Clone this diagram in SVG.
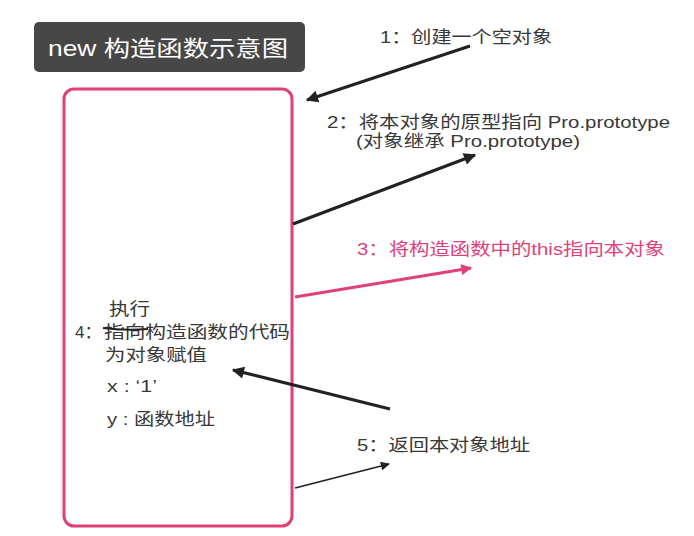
<svg xmlns="http://www.w3.org/2000/svg" width="694" height="536" viewBox="0 0 694 536">
<style>
.t{font-family:"Liberation Sans","Noto Sans CJK SC",sans-serif;font-size:17px;fill:#383838}
.p{fill:#e0407a}
.ln{stroke:#222;fill:none;stroke-linecap:butt}
</style>
<defs>
<marker id="ah" viewBox="0 0 10 10" refX="9" refY="5" markerWidth="4.2" markerHeight="3.8" orient="auto" markerUnits="strokeWidth"><path d="M0,0 L10,5 L0,10 z" fill="#222"/></marker>
<marker id="ahs" viewBox="0 0 10 10" refX="9" refY="5" markerWidth="5.5" markerHeight="5" orient="auto" markerUnits="strokeWidth"><path d="M0,0 L10,5 L0,10 z" fill="#222"/></marker>
<marker id="ap" viewBox="0 0 10 10" refX="9" refY="5" markerWidth="4" markerHeight="3.6" orient="auto" markerUnits="strokeWidth"><path d="M0,0 L10,5 L0,10 z" fill="#e0407a"/></marker>
</defs>
<rect width="694" height="536" fill="#fff"/>
<g id="title">
<rect x="34" y="22" width="271" height="50" rx="5" fill="#474747"/>
<text x="48" y="56" font-family="Liberation Sans,'Noto Sans CJK SC',sans-serif" font-size="22" fill="#fff" textLength="240" lengthAdjust="spacingAndGlyphs">new 构造函数示意图</text>
</g>
<g id="object">
<rect x="64" y="89" width="228" height="437" rx="10" fill="none" stroke="#e0407a" stroke-width="3"/>
<text class="t" x="109" y="315" textLength="41" lengthAdjust="spacingAndGlyphs">执行</text>
<text class="t" x="75" y="338">4：</text>
<text class="t" x="104" y="338" textLength="186" lengthAdjust="spacingAndGlyphs">指向构造函数的代码</text>
<path d="M103,328 Q125,331 148,329" stroke="#222" stroke-width="2" fill="none"/>
<text class="t" x="105" y="361" textLength="102" lengthAdjust="spacingAndGlyphs">为对象赋值</text>
<text class="t" x="107" y="392" textLength="50" lengthAdjust="spacingAndGlyphs">x : ‘1’</text>
<text class="t" x="107" y="425" textLength="108" lengthAdjust="spacingAndGlyphs">y : 函数地址</text>
</g>
<g id="step1"><text class="t" x="380" y="43" textLength="172" lengthAdjust="spacingAndGlyphs">1：创建一个空对象</text></g>
<g id="step2">
<text class="t" x="327" y="128" textLength="343" lengthAdjust="spacingAndGlyphs">2：将本对象的原型指向 Pro.prototype</text>
<text class="t" x="356" y="147" textLength="224" lengthAdjust="spacingAndGlyphs">(对象继承 Pro.prototype)</text>
</g>
<g id="step3"><text class="t p" x="357" y="255" textLength="308" lengthAdjust="spacingAndGlyphs">3：将构造函数中的this指向本对象</text></g>
<g id="step5"><text class="t" x="357" y="451" textLength="173" lengthAdjust="spacingAndGlyphs">5：返回本对象地址</text></g>
<g id="connectors">
<line class="ln" x1="470" y1="46" x2="307" y2="100" stroke-width="3.2" marker-end="url(#ah)"/>
<line class="ln" x1="293" y1="224" x2="475" y2="155" stroke-width="3.2" marker-end="url(#ah)"/>
<line x1="295" y1="297" x2="471" y2="268" stroke="#e0407a" stroke-width="3" marker-end="url(#ap)"/>
<line class="ln" x1="390" y1="409" x2="233" y2="370" stroke-width="3.2" marker-end="url(#ah)"/>
<line class="ln" x1="295" y1="488" x2="389" y2="464" stroke-width="1.8" marker-end="url(#ahs)"/>
</g>
</svg>
